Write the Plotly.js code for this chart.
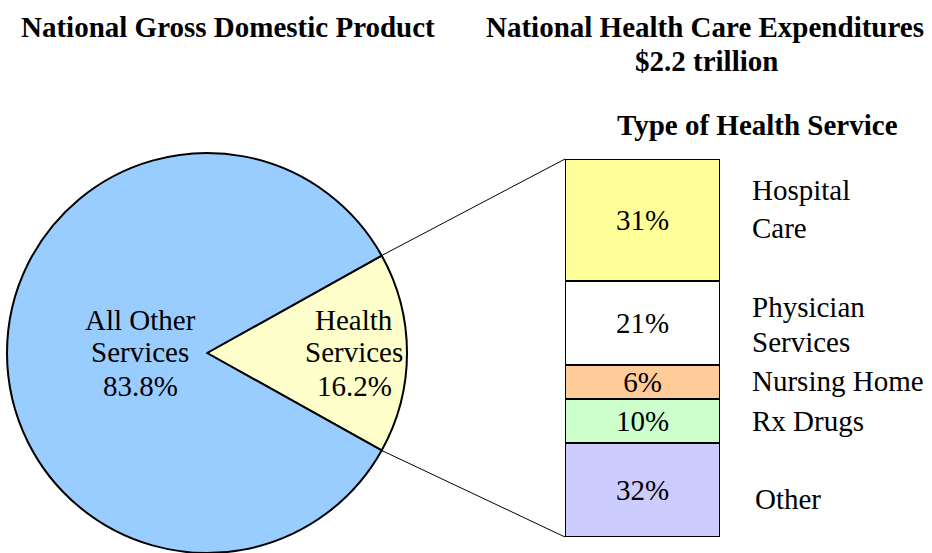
<!DOCTYPE html>
<html>
<head>
<meta charset="utf-8">
<script src="https://cdn.plot.ly/plotly-3.0.1.min.js"></script>
<style>html,body{margin:0;padding:0;background:#fff;overflow:hidden}#chart{width:932px;height:553px}</style>
</head>
<body>
<div id="chart"></div>
<script>
// ---- data ----
var pieLabels = ['Health Services', 'All Other Services'];
var pieValues = [16.2, 83.8];
var pieLabelLines = [['Health', 'Services'], ['All Other', 'Services']];

var serviceTypes = ['Hospital Care', 'Physician Services', 'Nursing Home', 'Rx Drugs', 'Other'];
var serviceLabelLines = [['Hospital', 'Care'], ['Physician', 'Services'], ['Nursing Home'], ['Rx Drugs'], ['Other']];
var serviceShareText = ['31%', '21%', '6%', '10%', '32%'];
// segment heights as drawn in the picture (percent of bar height)
var serviceSegment = [32.3, 22.1, 9.1, 11.5, 25.0];

var titleLeft = 'National Gross Domestic Product';
var titleRight = ['National Health Care Expenditures', '$2.2 trillion'];
var barTitle = 'Type of Health Service';

// ---- layout constants ----
var W = 932, H = 553;
var FONT = 'Liberation Serif, Times New Roman, serif';
var pieCx = 207, pieCy = 353, pieR = 200;
var barX0 = 565, barX1 = 720, barTop = 159, barBot = 537;
var pieColors = ['#FFFFCC', '#99CCFF'];
var barColors = ['#FFFF99', '#FFFFFF', '#FFCC99', '#CCFFCC', '#CCCCFF'];

function px(x) { return x / W; }
function py(y) { return (H - y) / H; }

var traces = [];
traces.push({
  type: 'pie',
  labels: pieLabels,
  values: pieValues,
  sort: false,
  direction: 'clockwise',
  rotation: 90 - pieValues[0] * 3.6 / 2,
  marker: {colors: pieColors, line: {color: '#000', width: 2}},
  textinfo: 'none',
  hoverinfo: 'label+percent',
  showlegend: false,
  domain: {x: [px(pieCx - pieR), px(pieCx + pieR)], y: [py(pieCy + pieR), py(pieCy - pieR)]}
});

for (var i = serviceTypes.length - 1; i >= 0; i--) {
  traces.push({
    type: 'bar',
    name: serviceTypes[i],
    x: [0],
    y: [serviceSegment[i]],
    width: [1],
    text: [serviceShareText[i]],
    textposition: 'inside',
    insidetextanchor: 'middle',
    constraintext: 'none',
    textfont: {family: FONT, size: 29, color: '#000'},
    marker: {color: barColors[i], line: {color: '#000', width: 2}},
    showlegend: false,
    hoverinfo: 'name'
  });
}

var ann = [];
function addText(txt, x, y, opts) {
  opts = opts || {};
  ann.push({
    text: txt, xref: 'paper', yref: 'paper', x: px(x), y: py(y),
    xanchor: opts.xanchor || 'center', yanchor: 'middle', showarrow: false,
    font: {family: FONT, size: opts.size || 29, color: '#000'}
  });
}

// titles
addText('<b>' + titleLeft + '</b>', 228, 27);
addText('<b>' + titleRight[0] + '</b>', 705, 27);
addText('<b>' + titleRight[1] + '</b>', 706, 61);
addText('<b>' + barTitle + '</b>', 757, 125);

// pie labels
var pieLabelX = [354, 140];
var pieLabelY = [[320, 352, 386], [320, 352, 386]];
for (var p = 0; p < pieLabels.length; p++) {
  var lines = pieLabelLines[p].concat([pieValues[p].toFixed(1) + '%']);
  for (var l = 0; l < lines.length; l++) addText(lines[l], pieLabelX[p], pieLabelY[p][l]);
}

// category labels right of bar
var catY = [[190, 228], [307, 342], [381], [421], [499]];
var catX = [750, 750, 750, 750, 753];
for (var c = 0; c < serviceTypes.length; c++) {
  for (var k = 0; k < serviceLabelLines[c].length; k++) {
    addText(serviceLabelLines[c][k], catX[c], catY[c][k], {xanchor: 'left'});
  }
}

// connector lines from the health wedge to the bar
var half = pieValues[0] / 100 * Math.PI;
var ex = pieCx + pieR * Math.cos(half), eyTop = pieCy - pieR * Math.sin(half), eyBot = pieCy + pieR * Math.sin(half);
var shapes = [
  {type: 'line', xref: 'paper', yref: 'paper', x0: px(ex), y0: py(eyTop), x1: px(barX0), y1: py(barTop), line: {color: '#000', width: 1}},
  {type: 'line', xref: 'paper', yref: 'paper', x0: px(ex), y0: py(eyBot), x1: px(barX0), y1: py(barBot), line: {color: '#000', width: 1}}
];

var layout = {
  width: W, height: H,
  margin: {l: 0, r: 0, t: 0, b: 0},
  paper_bgcolor: '#fff', plot_bgcolor: 'rgba(0,0,0,0)',
  barmode: 'stack', bargap: 0,
  xaxis: {domain: [px(barX0), px(barX1)], range: [-0.5, 0.5], visible: false, fixedrange: true},
  yaxis: {domain: [py(barBot), py(barTop)], range: [0, 100], visible: false, fixedrange: true},
  annotations: ann,
  shapes: shapes,
  showlegend: false,
  font: {family: FONT}
};

Plotly.newPlot('chart', traces, layout, {displayModeBar: false, staticPlot: true});
</script>
</body>
</html>
